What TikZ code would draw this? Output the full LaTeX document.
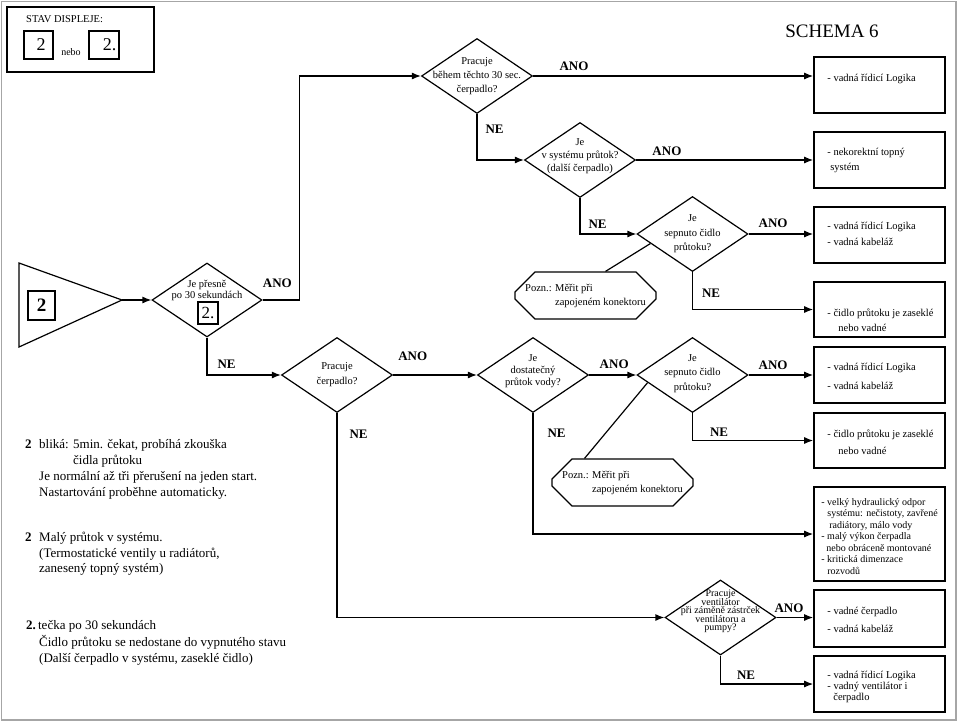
\documentclass[tikz,border=0pt]{standalone}
\usepackage{fontspec}
\setmainfont{Liberation Serif}
\usetikzlibrary{shapes.geometric,shapes.misc,positioning,calc,arrows.meta}

\begin{document}
\begin{tikzpicture}[
                        x=1pt, y=-1pt,
                        >={Latex[length=9pt,width=7pt]},
                        decision/.style={diamond, draw, line width=1.2pt, minimum width=111pt, minimum height=75pt, inner sep=0pt},
                        qtext/.style={align=center, inner sep=0pt, font=\fontsize{10.5}{14}\selectfont},
                        result/.style={rectangle, draw, line width=1.6pt, minimum width=131pt, minimum height=56pt, inner sep=0pt},
                        rtext/.style={align=left, inner sep=0pt, font=\fontsize{10.5}{16}\selectfont},
                        note/.style={chamfered rectangle, chamfered rectangle xsep=10pt, chamfered rectangle ysep=10pt, draw, line width=1.2pt, minimum width=141pt, minimum height=47pt, inner sep=0pt, align=left, font=\fontsize{10.5}{14}\selectfont},
                        digit/.style={rectangle, draw, line width=1.2pt, minimum width=29pt, minimum height=28pt, inner sep=0pt, font=\fontsize{18}{18}\selectfont},
                        lbl/.style={inner sep=0pt, font=\bfseries\fontsize{13}{13}\selectfont},
                        conn/.style={->, line width=1.2pt},
                        remark/.style={align=left, inner sep=0pt, anchor=north west, font=\fontsize{13}{16}\selectfont}
                    ]
                    \useasboundingbox (0,0) rectangle (960,723);
                    \draw [gray!70, line width=1.5pt] (1.5,1.5) rectangle (956,720);

                    % Legend
                    \node [rectangle, draw, line width=2pt, minimum width=147pt, minimum height=65pt] (legend) at (80.5,39.5) {};
                    \node [anchor=west, inner sep=0pt, font=\fontsize{10.5}{10.5}\selectfont] (legendtitle) at (26,19) {STAV DISPLEJE:};
                    \node [digit] (dispA) at (38.5,45) {\hspace*{5pt}2};
                    \node [digit, minimum width=30pt] (dispB) at (104,45) {\hspace*{11pt}2.};
                    \node [inner sep=0pt, font=\fontsize{10}{10}\selectfont] (nebo) at (71,52) {nebo};
                    \node [inner sep=0pt, font=\fontsize{19}{19}\selectfont] (title) at (832,31.5) {SCHEMA 6};

                    % Start
                    \draw [line width=1.2pt] (19,263) -- (122,300) coordinate (tip) -- (19,347) -- cycle;
                    \node [digit, minimum width=27pt, minimum height=29pt, font=\bfseries\fontsize{19}{19}\selectfont] (start) at (41.5,305.5) {2};

                    % Decisions
                    \node [decision, label={[qtext]center:Pracuje\\během těchto 30 sec.\\čerpadlo?}] (pump30) at (477,76) {};
                    \node [decision, minimum width=110pt, minimum height=74pt, label={[qtext, yshift=9.5pt, font=\fontsize{10.5}{11}\selectfont]center:Je přesně\\po 30 sekundách}] (exact) at (207,300) {};
                    \node [digit, minimum width=20pt, minimum height=22pt, font=\fontsize{17}{17}\selectfont] (exactdot) at (208,313) {2.};
                    \node [decision, label={[qtext, yshift=4pt, font=\fontsize{10.5}{13}\selectfont]center:Je\\v systému průtok?\\(další čerpadlo)}] (otherflow) at (580,160) {};
                    \node [decision, label={[qtext, font=\fontsize{10.5}{14.5}\selectfont]center:Je\\sepnuto čidlo\\průtoku?}] (sensorA) at (692.5,234) {};
                    \node [decision, label={[qtext, font=\fontsize{10.5}{15}\selectfont]center:Pracuje\\čerpadlo?}] (pumpruns) at (337,375) {};
                    \node [decision, label={[qtext, yshift=4pt, font=\fontsize{10.5}{12}\selectfont]center:Je\\dostatečný\\průtok vody?}] (enoughflow) at (533,375) {};
                    \node [decision, label={[qtext, yshift=1.5pt, font=\fontsize{10.5}{14.5}\selectfont]center:Je\\sepnuto čidlo\\průtoku?}] (sensorB) at (692.5,375) {};
                    \node [decision, label={[qtext, yshift=6pt, font={\fontsize{10}{8.4}\selectfont\lineskiplimit=-20pt}]center:Pracuje\\ventilátor\\při záměně zástrček\\ventilátoru a\\pumpy?}] (fan) at (720.5,617.5) {};

                    % Notes
                    \node [note] (noteA) at (585.5,295.5) {Pozn.: Měřit při\\\hspace*{30pt}zapojeném konektoru};
                    \node [note] (noteB) at (622.5,482.5) {Pozn.: Měřit při\\\hspace*{30pt}zapojeném konektoru};

                    % Results
                    \node [result] (logicA) at (879.5,85) {};
                    \node [rtext, right=14pt of logicA.west, yshift=6pt] (logicAtxt) {- vadná řídicí Logika};
                    \node [result] (heating) at (879.5,160) {};
                    \node [rtext, right=14pt of heating.west, font=\fontsize{10.5}{15}\selectfont] (heatingtxt) {- nekorektní topný\\\hspace*{3pt}systém};
                    \node [result] (wiringA) at (879.5,235) {};
                    \node [rtext, right=14pt of wiringA.west, yshift=1pt] (wiringAtxt) {- vadná řídicí Logika\\- vadná kabeláž};
                    \node [result, minimum height=55pt] (stuckA) at (879.5,309.5) {};
                    \node [rtext, right=14pt of stuckA.west, yshift=-11pt, font=\fontsize{10.5}{15}\selectfont] (stuckAtxt) {- čidlo průtoku je zaseklé\\\hspace*{11pt}nebo vadné};
                    \node [result] (wiringB) at (879.5,375) {};
                    \node [rtext, right=14pt of wiringB.west, yshift=-1.5pt, font=\fontsize{10.5}{19}\selectfont] (wiringBtxt) {- vadná řídicí Logika\\- vadná kabeláž};
                    \node [result, minimum height=55pt] (stuckB) at (879.5,440.5) {};
                    \node [rtext, right=14pt of stuckB.west, yshift=-2pt, font=\fontsize{10.5}{17}\selectfont] (stuckBtxt) {- čidlo průtoku je zaseklé\\\hspace*{11pt}nebo vadné};
                    \node [result, minimum height=94pt] (hydraulic) at (879.5,534) {};
                    \node [rtext, right=8pt of hydraulic.west, yshift=-2.5pt, font=\fontsize{10}{11.5}\selectfont] (hydraulictxt) {- velký hydraulický odpor\\\hspace*{6pt}systému: nečistoty, zavřené\\\hspace*{8pt}radiátory, málo vody\\- malý výkon čerpadla\\\hspace*{5pt}nebo obráceně montované\\- kritická dimenzace\\\hspace*{6pt}rozvodů};
                    \node [result, minimum height=57pt] (pumpbad) at (879.5,618.5) {};
                    \node [rtext, right=14pt of pumpbad.west, yshift=-1.5pt, font=\fontsize{10.5}{18}\selectfont] (pumpbadtxt) {- vadné čerpadlo\\- vadná kabeláž};
                    \node [result] (fanbad) at (879.5,684) {};
                    \node [rtext, right=14pt of fanbad.west, yshift=-3pt, font=\fontsize{10.5}{11.3}\selectfont] (fanbadtxt) {- vadná řídicí Logika\\- vadný ventilátor i\\\hspace*{6pt}čerpadlo};

                    % Remarks
                    \node [remark] (blink) at (25,439) {\makebox[14pt][l]{\textbf{2}}bliká: 5min. čekat, probíhá zkouška\\\hspace*{48pt}čidla průtoku\\\hspace*{14pt}Je normální až tři přerušení na jeden start.\\\hspace*{14pt}Nastartování proběhne automaticky.};
                    \node [remark, font=\fontsize{13}{15.5}\selectfont] (lowflow) at (25,532) {\makebox[14pt][l]{\textbf{2}}Malý průtok v systému.\\\hspace*{14pt}(Termostatické ventily u radiátorů,\\\hspace*{14pt}zanesený topný systém)};
                    \node [remark, font=\fontsize{13}{16.8}\selectfont] (dotted) at (26,620) {\textbf{2.}\,tečka po 30 sekundách\\\hspace*{13pt}Čidlo průtoku se nedostane do vypnutého stavu\\\hspace*{13pt}(Další čerpadlo v systému, zaseklé čidlo)};

                    % Connections
                    \draw [conn] (tip) -- (exact.west);
                    \draw [conn] (exact.east) -- node[lbl, above=11.7pt, pos=0.4]{ANO} ++(37,0) |- (pump30.west);
                    \draw [conn] (pump30.east) -- node[lbl, above=4.7pt, pos=0.146]{ANO} (pump30.east -| logicA.west);
                    \draw [conn] (pump30.south) |- node[lbl, right=8pt, pos=0.16]{NE} (otherflow.west);
                    \draw [conn] (otherflow.east) -- node[lbl, above=3.7pt, pos=0.174]{ANO} (otherflow.east -| heating.west);
                    \draw [conn] (otherflow.south) |- node[lbl, right=8pt, pos=0.365]{NE} (sensorA.west);
                    \draw [conn] (sensorA.east) -- node[lbl, above=5.7pt, pos=0.38]{ANO} (sensorA.east -| wiringA.west);
                    \draw [conn] (sensorA.south) |- node[lbl, right=9pt, pos=0.276]{NE} (stuckA.west);
                    \draw [line width=1.2pt] ($(sensorA.west)!0.25!(sensorA.south)$) -- ([xshift=20pt]noteA.north);
                    \draw [conn] (exact.south) |- node[lbl, right=10pt, pos=0.36]{NE} (pumpruns.west);
                    \draw [conn] (pumpruns.east) -- node[lbl, above=14.2pt, pos=0.235]{ANO} (enoughflow.west);
                    \draw [conn] (pumpruns.south) |- node[lbl, right=12pt, pos=0.052]{NE} (fan.west);
                    \draw [conn] (enoughflow.east) -- node[lbl, above=5.7pt, pos=0.53]{ANO} (sensorB.west);
                    \draw [conn] (enoughflow.south) |- node[lbl, right=14pt, pos=0.082]{NE} (hydraulic.west);
                    \draw [conn] (sensorB.east) -- node[lbl, above=5.2pt, pos=0.38]{ANO} (sensorB.east -| wiringB.west);
                    \draw [conn] (sensorB.south) |- node[lbl, right=17pt, pos=0.345]{NE} (stuckB.west);
                    \draw [line width=1.2pt] ($(sensorB.west)!0.2!(sensorB.south)$) -- ([xshift=-38pt]noteB.north);
                    \draw [conn] (fan.east) -- node[lbl, above=4.2pt, pos=0.34]{ANO} (fan.east -| pumpbad.west);
                    \draw [conn] (fan.south) |- node[lbl, right=16pt, pos=0.35]{NE} (fanbad.west);
                \end{tikzpicture}
\end{document}
